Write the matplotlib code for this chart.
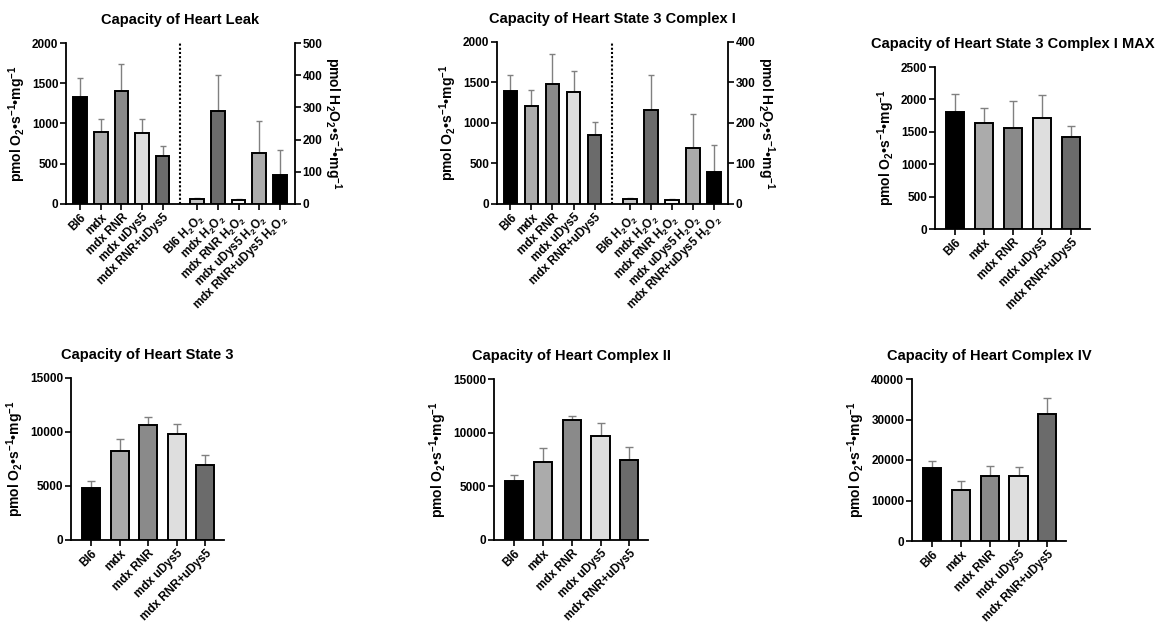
import matplotlib
matplotlib.use('Agg')
import matplotlib.pyplot as plt
import numpy as np

plt.rcParams['font.family'] = ['Liberation Sans', 'DejaVu Sans']
plt.rcParams['font.weight'] = 'bold'
plt.rcParams['axes.labelweight'] = 'bold'
plt.rcParams['axes.titleweight'] = 'bold'
plt.rcParams['mathtext.fontset'] = 'custom'
plt.rcParams['mathtext.rm'] = 'Liberation Sans:bold'
plt.rcParams['mathtext.it'] = 'Liberation Sans:bold'
plt.rcParams['mathtext.bf'] = 'Liberation Sans:bold'
plt.rcParams['mathtext.default'] = 'bf'

# groups and colours
groups = ['Bl6', 'mdx', 'mdx RNR', 'mdx uDys5', 'mdx RNR+uDys5']
h2o2_groups = ['Bl6 H$_2$O$_2$', 'mdx H$_2$O$_2$', 'mdx RNR H$_2$O$_2$',
               'mdx uDys5 H$_2$O$_2$', 'mdx RNR+uDys5 H$_2$O$_2$']
o2_colors = ['#000000', '#ababab', '#8a8a8a', '#dedede', '#6b6b6b']
h2o2_colors = ['#c4c4c4', '#6b6b6b', '#f4f4f4', '#ababab', '#000000']

# Leak
leak_o2 = [1330, 897, 1401, 884, 595]
leak_o2_sd = [238, 153, 343, 166, 128]
leak_h2o2 = [17, 288, 13, 157, 90]
leak_h2o2_sd = [2, 114, 2, 102, 78]

# State 3 Complex I
ci_o2 = [1390, 1210, 1485, 1380, 858]
ci_o2_sd = [200, 200, 370, 265, 152]
ci_h2o2 = [12, 231, 10, 138, 80]
ci_h2o2_sd = [4, 87, 2, 85, 65]

# State 3 Complex I MAX
cimax = [1808, 1639, 1552, 1706, 1414]
cimax_sd = [272, 236, 425, 358, 179]

# State 3
s3 = [4794, 8196, 10670, 9835, 6960]
s3_sd = [681, 1144, 710, 895, 930]

# Complex II
cii = [5497, 7298, 11180, 9720, 7453]
cii_sd = [559, 1304, 373, 1210, 1181]

# Complex IV
civ = [18107, 12593, 16049, 16049, 31358]
civ_sd = [1646, 2304, 2470, 2140, 3868]

O2_LABEL = 'pmol O$_2$•s$^{-1}$•mg$^{-1}$'
H2O2_LABEL = 'pmol H$_2$O$_2$•s$^{-1}$•mg$^{-1}$'

W, H = 1159, 628
fig = plt.figure(figsize=(W / 100, H / 100), dpi=100)


def box(x0, y0, x1, y1):
    return [x0 / W, 1 - y1 / H, (x1 - x0) / W, (y1 - y0) / H]


def style(ax):
    for s in ['top', 'right']:
        ax.spines[s].set_visible(False)
    for s in ['left', 'bottom']:
        ax.spines[s].set_linewidth(1.3)
    ax.tick_params(direction='out', length=4, width=1.2, labelsize=8.5, pad=1.5)


def bold_ticks(ax):
    for t in ax.get_xticklabels() + ax.get_yticklabels():
        t.set_fontweight('bold')


def bars(ax, pos, vals, sd, colors, width, capsize):
    ax.bar(pos, vals, width=width, color=colors, edgecolor='black',
           linewidth=1.4, zorder=3)
    ax.errorbar(pos, vals, yerr=[np.zeros(len(vals)), sd], fmt='none',
                ecolor='#808080', elinewidth=1.0, capsize=capsize,
                capthick=1.0, zorder=2)


def dual_panel(rect, title, o2, o2_sd, h2, h2_sd, ymax_l, ymax_r, tick_l, tick_r, xlim):
    ax = fig.add_axes(rect)
    style(ax)
    left = np.arange(5)
    right = np.arange(5) + 5.68
    bars(ax, left, o2, o2_sd, o2_colors, 0.66, 2.2)
    ax.set_ylim(0, ymax_l)
    ax.set_yticks(tick_l)
    ax.set_xlim(*xlim)
    ax.axvline(4.85, color='black', linestyle=(0, (1, 1)), linewidth=1.5)
    ax2 = ax.twinx()
    for s in ['top', 'left', 'bottom']:
        ax2.spines[s].set_visible(False)
    ax2.spines['right'].set_linewidth(1.3)
    ax2.tick_params(direction='out', length=4, width=1.2, labelsize=8.5, pad=1.5)
    bars(ax2, right, h2, h2_sd, h2o2_colors, 0.66, 2.2)
    ax2.set_ylim(0, ymax_r)
    ax2.set_yticks(tick_r)
    ax2.set_xlim(*xlim)
    ax.set_xticks(np.concatenate([left, right]))
    ax.set_xticklabels(groups + h2o2_groups, rotation=45, ha='right',
                       rotation_mode='anchor', fontsize=8.5)
    ax.set_ylabel(O2_LABEL, fontsize=10, labelpad=3)
    ax2.set_ylabel(H2O2_LABEL, fontsize=10, rotation=270, labelpad=15)
    ax.set_title(title, fontsize=10.5, fontweight='bold', pad=14)
    bold_ticks(ax)
    bold_ticks(ax2)


def single_panel(rect, title, vals, sd, ymax, ticks):
    ax = fig.add_axes(rect)
    style(ax)
    pos = np.arange(5)
    bars(ax, pos, vals, sd, o2_colors, 0.63, 3)
    ax.set_ylim(0, ymax)
    ax.set_yticks(ticks)
    ax.set_xlim(-0.7, 4.65)
    ax.set_xticks(pos)
    ax.set_xticklabels(groups, rotation=45, ha='right', rotation_mode='anchor',
                       fontsize=8.5)
    ax.set_ylabel(O2_LABEL, fontsize=10, labelpad=3)
    ax.set_title(title, fontsize=10.5, fontweight='bold', pad=14)
    bold_ticks(ax)


dual_panel(box(66, 43, 295, 204), 'Capacity of Heart Leak',
           leak_o2, leak_o2_sd, leak_h2o2, leak_h2o2_sd,
           2000, 500, [0, 500, 1000, 1500, 2000], [0, 100, 200, 300, 400, 500],
           (-0.69, 10.42))
dual_panel(box(497, 42, 728, 204), 'Capacity of Heart State 3 Complex I',
           ci_o2, ci_o2_sd, ci_h2o2, ci_h2o2_sd,
           2000, 400, [0, 500, 1000, 1500, 2000], [0, 100, 200, 300, 400],
           (-0.64, 10.35))
single_panel(box(935, 67, 1090, 229), 'Capacity of Heart State 3 Complex I MAX',
             cimax, cimax_sd, 2500, [0, 500, 1000, 1500, 2000, 2500])
single_panel(box(71, 378, 224, 540), 'Capacity of Heart State 3',
             s3, s3_sd, 15000, [0, 5000, 10000, 15000])
single_panel(box(494, 379, 648, 540), 'Capacity of Heart Complex II',
             cii, cii_sd, 15000, [0, 5000, 10000, 15000])
single_panel(box(912, 379, 1066, 541), 'Capacity of Heart Complex IV',
             civ, civ_sd, 40000, [0, 10000, 20000, 30000, 40000])

fig.savefig('out.png', dpi=100)
